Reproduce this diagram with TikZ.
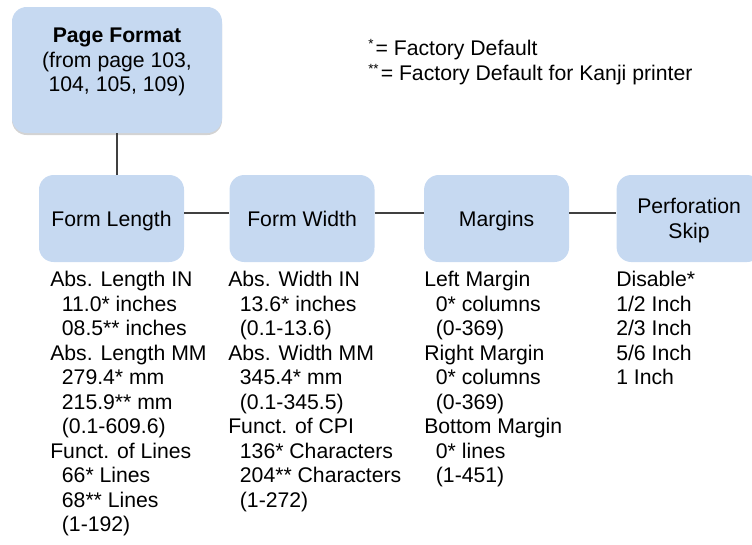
\documentclass[tikz,border=0pt]{standalone}
\usepackage{fontspec}
\setmainfont{Liberation Sans}
\usepackage{tikz}
\usetikzlibrary{positioning,shadows}
\definecolor{boxblue}{RGB}{198,217,241}
\definecolor{linkgrey}{RGB}{64,64,64}
\tikzset{
  topbox/.style={fill=boxblue,rounded corners=11pt,minimum width=157.5pt,
    minimum height=94.5pt,inner sep=0pt,
    drop shadow={shadow xshift=0pt,shadow yshift=-1.5pt,opacity=0.35}},
  menubox/.style={fill=boxblue,rounded corners=11pt,minimum width=108.75pt,
    minimum height=65.25pt,align=center,inner sep=0pt,
    text height=11.5pt,text depth=0pt},
  listtext/.style={anchor=north west,align=left,inner sep=0pt},
  keytext/.style={anchor=base west,inner sep=0pt},
  link/.style={draw=linkgrey,line width=1.2pt}
}
\newcommand{\ind}{\hspace*{0.55em}}
\newcommand{\keystar}[1]{\raisebox{4.8pt}{\fontsize{10}{10}\selectfont #1}\hspace{0.1em}}

\begin{document}
\begin{tikzpicture}[x=0.75pt,y=-0.75pt,font=\fontsize{15.9}{18.4}\selectfont]
  \clip (0,0) rectangle (752,544);
  \node[topbox] (page) at (117,70) {};
  \node[align=center,inner sep=0pt] (pagetxt) at (117,62)
    {\textbf{Page Format}\\(from page 103,\\104, 105, 109)};
  \node[keytext] (key1) at (368,55) {\keystar{*}= Factory Default};
  \node[keytext] (key2) at (368,80)
    {\keystar{**}= Factory Default for Kanji printer};
  % menu row
  \node[menubox] (len) at (111.5,218.5) {Form Length};
  \node[menubox,right=33.75pt of len] (wid) {Form Width};
  \node[menubox,right=36.75pt of wid] (mar) {Margins};
  \node[menubox,right=35.25pt of mar,text height=29.9pt] (perf)
    {Perforation\\Skip};
  \coordinate (rowline) at (0,213);
  \draw[link] (page.south) -- (page.south |- len.north);
  \draw[link] (len.east |- rowline) -- (wid.west |- rowline);
  \draw[link] (wid.east |- rowline) -- (mar.west |- rowline);
  \draw[link] (mar.east |- rowline) -- (perf.west |- rowline);
  % settings under each menu
  \node[listtext] (lenlist) at (50,271)
    {Abs. Length IN\\\ind 11.0* inches\\\ind 08.5** inches\\
     Abs. Length MM\\\ind 279.4* mm\\\ind 215.9** mm\\\ind (0.1-609.6)\\
     Funct. of Lines\\\ind 66* Lines\\\ind 68** Lines\\\ind (1-192)};
  \node[listtext] (widlist) at (228,271)
    {Abs. Width IN\\\ind 13.6* inches\\\ind (0.1-13.6)\\
     Abs. Width MM\\\ind 345.4* mm\\\ind (0.1-345.5)\\
     Funct. of CPI\\\ind 136* Characters\\\ind 204** Characters\\\ind (1-272)};
  \node[listtext] (marlist) at (424,271)
    {Left Margin\\\ind 0* columns\\\ind (0-369)\\
     Right Margin\\\ind 0* columns\\\ind (0-369)\\
     Bottom Margin\\\ind 0* lines\\\ind (1-451)};
  \node[listtext] (perflist) at (616,271)
    {Disable*\\1/2 Inch\\2/3 Inch\\5/6 Inch\\1 Inch};
\end{tikzpicture}
\end{document}
